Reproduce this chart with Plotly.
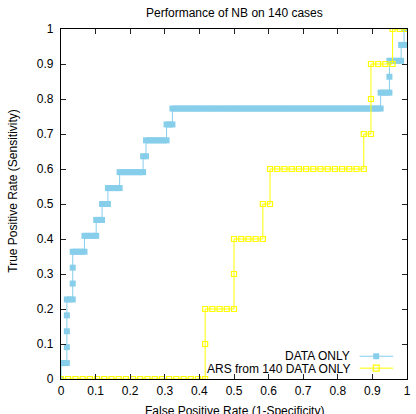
import plotly.graph_objects as go

# ---- data (ROC points as counts) ----
# DATA ONLY: 22 positives, 118 negatives; list index = true-positive count,
# entries = false-positive counts visited at that TP level
blue_n_pos = 22
blue_n_neg = 118
blue_fp_runs = [
    [0],
    [0, 1, 2],
    [2],
    [2],
    [2],
    [2, 3, 4],
    [4],
    [4],
    [4, 5, 6, 7, 8],
    [8, 9, 10, 11, 12],
    [12, 13, 14],
    [14, 15, 16],
    [16, 17, 18, 19, 20],
    [20, 21, 22, 23, 24, 25, 26, 27, 28],
    [28, 29],
    [29, 30, 31, 32, 33, 34, 35, 36],
    [36, 37, 38],
    [38, 39, 40, 41, 42, 43, 44, 45, 46, 47, 48, 49, 50, 51, 52, 53, 54, 55,
     56, 57, 58, 59, 60, 61, 62, 63, 64, 65, 66, 67, 68, 69, 70, 71, 72, 73,
     74, 75, 76, 77, 78, 79, 80, 81, 82, 83, 84, 85, 86, 87, 88, 89, 90, 91,
     92, 93, 94, 95, 96, 97, 98, 99, 100, 101, 102, 103, 104, 105, 106, 107,
     108, 109],
    [109, 110, 111, 112],
    [112],
    [112, 113, 114, 115, 116],
    [116, 117],
    [117, 118],
]

# ARS from 140 DATA ONLY: 10 positives, 48 negatives
ars_n_pos = 10
ars_n_neg = 48
ars_fp_runs = [
    [0, 1, 2, 3, 4, 5, 6, 7, 8, 9, 10, 11, 12, 13, 14, 15, 16, 17, 18, 19, 20],
    [20],
    [20, 21, 22, 23, 24],
    [24],
    [24, 25, 26, 27, 28],
    [28, 29],
    [29, 30, 31, 32, 33, 34, 35, 36, 37, 38, 39, 40, 41, 42],
    [42, 43],
    [43],
    [43, 44, 45, 46],
    [46, 47, 48],
]

x_ticks = [0, 0.1, 0.2, 0.3, 0.4, 0.5, 0.6, 0.7, 0.8, 0.9, 1]
y_ticks = [0, 0.1, 0.2, 0.3, 0.4, 0.5, 0.6, 0.7, 0.8, 0.9, 1]

title_text = "Performance of NB on 140 cases"
x_title = "False Positive Rate (1-Specificity)"
y_title = "True Positive Rate (Sensitivity)"
name_blue = "DATA ONLY"
name_ars = "ARS from 140 DATA ONLY"


def roc(runs, n_pos, n_neg):
    xs, ys = [], []
    for tp, fps in enumerate(runs):
        for fp in fps:
            xs.append(fp / n_neg)
            ys.append(tp / n_pos)
    return xs, ys


bx, by = roc(blue_fp_runs, blue_n_pos, blue_n_neg)
ax, ay = roc(ars_fp_runs, ars_n_pos, ars_n_neg)

BLUE = "#87CEEB"
YEL = "#FFFF00"

fig = go.Figure()
fig.add_trace(go.Scatter(
    x=bx, y=by, mode="lines+markers", name=name_blue, showlegend=False,
    line=dict(color=BLUE, width=1),
    marker=dict(symbol="square", size=6, color=BLUE, line=dict(width=0)),
))
fig.add_trace(go.Scatter(
    x=ax, y=ay, mode="lines+markers", name=name_ars, showlegend=False,
    line=dict(color=YEL, width=1),
    marker=dict(symbol="square-open", size=5, color=YEL, line=dict(width=1.2, color=YEL)),
))

FONT = "Liberation Sans, Arial, Helvetica, sans-serif"
axis_common = dict(
    range=[0, 1], showgrid=False, zeroline=False,
    showline=True, linecolor="#000", linewidth=1.2, mirror="allticks",
    ticks="inside", ticklen=5, tickwidth=1, tickcolor="#222",
    tickfont=dict(size=12, color="#000", family=FONT),
)
fig.update_xaxes(tickvals=x_ticks, ticktext=[f"{v:g}" for v in x_ticks], **axis_common)
fig.update_yaxes(tickvals=y_ticks, ticktext=[f"{v:g}" for v in y_ticks],
                 ticklabelstandoff=4, **axis_common)

annotations = [
    dict(text=title_text, xref="paper", yref="paper", x=0.5, y=1.047,
         xanchor="center", yanchor="middle", showarrow=False,
         font=dict(size=12, color="#000", family=FONT)),
    dict(text=x_title, xref="paper", yref="paper", x=0.5, y=-0.09,
         xanchor="center", yanchor="middle", showarrow=False,
         font=dict(size=12, color="#000", family=FONT)),
    dict(text=y_title, xref="paper", yref="paper", x=-0.1386, y=0.538,
         xanchor="center", yanchor="middle", showarrow=False, textangle=-90,
         font=dict(size=12, color="#000", family=FONT)),
    # legend labels (right-aligned, key to the right as in the original)
    dict(text=name_blue, xref="paper", yref="paper", x=0.842, y=0.066,
         xanchor="right", yanchor="middle", showarrow=False,
         font=dict(size=12, color="#000", family=FONT)),
    dict(text=name_ars, xref="paper", yref="paper", x=0.842, y=0.030,
         xanchor="right", yanchor="middle", showarrow=False,
         font=dict(size=12, color="#000", family=FONT)),
]

kx0, kx1, kxc = 0.863, 0.96, 0.911
hw, hh = 3 / 350, 3 / 350.5
shapes = [
    dict(type="line", xref="paper", yref="paper", x0=kx0, x1=kx1, y0=0.065, y1=0.065,
         line=dict(color=BLUE, width=1)),
    dict(type="rect", xref="paper", yref="paper", x0=kxc - hw, x1=kxc + hw,
         y0=0.065 - hh, y1=0.065 + hh, fillcolor=BLUE, line=dict(width=0)),
    dict(type="line", xref="paper", yref="paper", x0=kx0, x1=kx1, y0=0.031, y1=0.031,
         line=dict(color=YEL, width=1)),
    dict(type="rect", xref="paper", yref="paper", x0=kxc - hw, x1=kxc + hw,
         y0=0.031 - hh, y1=0.031 + hh, fillcolor="rgba(0,0,0,0)",
         line=dict(color=YEL, width=1.2)),
]

fig.update_layout(
    width=416, height=414,
    margin=dict(l=61, r=5, t=29, b=35),
    paper_bgcolor="#fff", plot_bgcolor="#fff",
    font=dict(family=FONT, size=12, color="#000"),
    annotations=annotations, shapes=shapes, showlegend=False,
)

fig.write_html("out.html", config={"displayModeBar": False},
               post_script="document.body.style.margin='0';document.body.style.overflow='hidden';")
